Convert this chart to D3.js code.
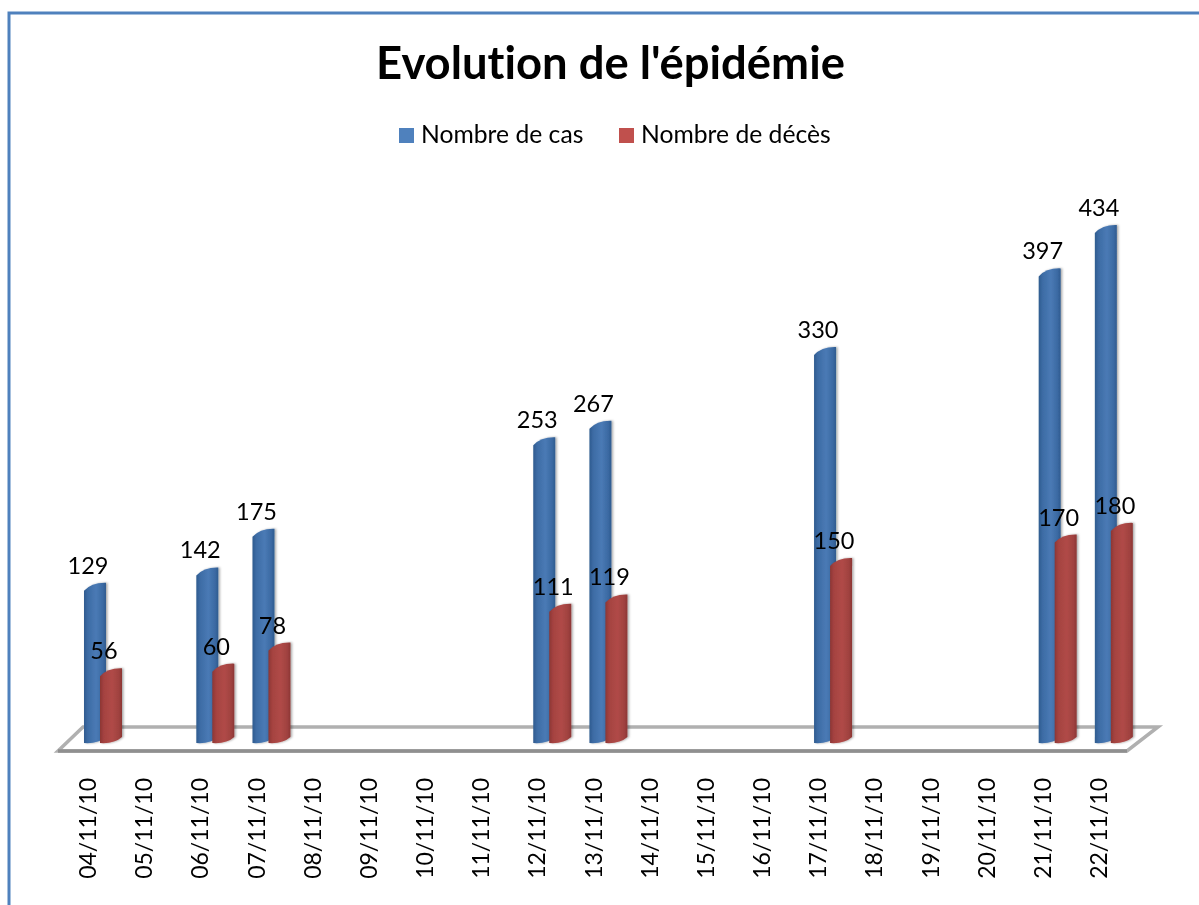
<!DOCTYPE html>
<html lang="fr">

<head>
  <meta charset="UTF-8" />
  <script src="https://d3js.org/d3.v7.min.js"></script>
  <title>Evolution de l'épidémie</title>
  <style>
    html, body { margin: 0; padding: 0; background: #fff; overflow: hidden; }
    svg { filter: blur(0.45px); }
    text { font-family: Lato, "Open Sans", sans-serif; fill: #000; font-variant-ligatures: none; }
  </style>
</head>

<body>
  <svg width="1199" height="905"></svg>

  <script>
    const dates = ["04/11/10", "05/11/10", "06/11/10", "07/11/10", "08/11/10", "09/11/10", "10/11/10",
      "11/11/10", "12/11/10", "13/11/10", "14/11/10", "15/11/10", "16/11/10", "17/11/10", "18/11/10",
      "19/11/10", "20/11/10", "21/11/10", "22/11/10"];
    const nombreCas = [129, null, 142, 175, null, null, null, null, 253, 267, null, null, null, 330, null, null, null, 397, 434];
    const nombreDeces = [56, null, 60, 78, null, null, null, null, 111, 119, null, null, null, 150, null, null, null, 170, 180];
    const seriesNames = ["Nombre de cas", "Nombre de décès"];
    const seriesColors = ["#4f81bd", "#c0504d"];

    const svg = d3.select("svg");

    // Chart frame, right and bottom edges fall outside the picture
    svg.append("path")
      .attr("d", "M9,905V13H1199")
      .attr("fill", "none")
      .attr("stroke", "#4f81bd")
      .attr("stroke-width", 3);

    const defs = svg.append("defs");
    const shadow = defs.append("filter").attr("id", "shadow")
      .attr("x", "-30%").attr("width", "170%");
    shadow.append("feDropShadow")
      .attr("dx", 1.5).attr("dy", 0).attr("stdDeviation", 1.2)
      .attr("flood-color", "#000").attr("flood-opacity", 0.35);

    const gradientStops = [
      [["0%", "#2f5b8f"], ["18%", "#3d6ca5"], ["55%", "#4a7ab5"], ["85%", "#3b6aa3"], ["100%", "#2f5b8f"]],
      [["0%", "#8c3634"], ["18%", "#a54341"], ["55%", "#b04a47"], ["85%", "#a04240"], ["100%", "#8c3634"]]
    ];
    gradientStops.forEach((stops, i) => {
      const g = defs.append("linearGradient").attr("id", "bar" + i);
      stops.forEach(s => g.append("stop").attr("offset", s[0]).attr("stop-color", s[1]));
    });

    // Scales
    const x = d3.scaleBand().domain(dates).range([58, 1125]);
    const inner = d3.scalePoint().domain(seriesNames).range([26, 42]);
    const y = d3.scaleLinear().domain([0, 434]).range([742, 233]);
    const barWidth = 22;

    // Floor of the 3D plot
    svg.append("path")
      .attr("d", "M83,727H1158L1127,751H58Z")
      .attr("fill", "#fff")
      .attr("stroke", "#b0b0b0")
      .attr("stroke-width", 3.5);
    svg.append("path")
      .attr("d", "M58,751H1127")
      .attr("stroke", "#8f8f8f")
      .attr("stroke-width", 3.5);

    // Cylinder seen from slightly above, the top leans up to the right
    function cylinder(x0, top) {
      const x1 = x0 + barWidth;
      const base = y(0);
      return `M${x0},${top}Q${x0 + barWidth * 0.35},${top - 8.5} ${x1},${top - 8}` +
        `L${x1},${base - 5}Q${x1 - barWidth * 0.35},${base + 2} ${x0},${base + 1}Z`;
    }

    const seriesValues = [nombreCas, nombreDeces];

    seriesValues.forEach((values, s) => {
      const rows = dates.map((d, i) => ({ date: d, value: values[i] })).filter(d => d.value !== null);
      const xPos = d => x(d.date) + inner(seriesNames[s]);
      svg.append("g").selectAll("path")
        .data(rows)
        .enter()
        .append("path")
        .attr("d", d => cylinder(xPos(d), y(d.value)))
        .attr("fill", `url(#bar${s})`)
        .attr("filter", "url(#shadow)");
    });

    seriesValues.forEach((values, s) => {
      const rows = dates.map((d, i) => ({ date: d, value: values[i] })).filter(d => d.value !== null);
      svg.append("g").selectAll("text")
        .data(rows)
        .enter()
        .append("text")
        .attr("x", d => x(d.date) + inner(seriesNames[s]) + 4)
        .attr("y", d => y(d.value) - 17)
        .attr("text-anchor", "middle")
        .attr("font-size", 23.5)
        .text(d => d.value);
    });

    // X axis with vertical dates
    const axis = svg.append("g")
      .attr("transform", "translate(2,762)")
      .call(d3.axisBottom(x).tickSize(0));
    axis.select(".domain").remove();
    axis.selectAll("text")
      .attr("font-size", 23)
      .attr("text-anchor", "end")
      .attr("transform", "rotate(-90)")
      .attr("x", -16)
      .attr("y", 0)
      .attr("dy", "0.35em");

    // Title
    svg.append("text")
      .attr("x", 610.5)
      .attr("y", 79)
      .attr("text-anchor", "middle")
      .attr("font-size", 45.4)
      .attr("font-weight", 700)
      .text("Evolution de l'épidémie");

    // Legend
    const legendX = d3.scaleOrdinal().domain(seriesNames).range([399, 619]);
    const legend = svg.append("g").selectAll("g")
      .data(seriesNames)
      .enter()
      .append("g")
      .attr("transform", d => `translate(${legendX(d)},128)`);
    legend.append("rect")
      .attr("width", 15)
      .attr("height", 15)
      .attr("fill", (d, i) => seriesColors[i]);
    legend.append("text")
      .attr("x", 22)
      .attr("y", 15)
      .attr("font-size", 24.7)
      .text(d => d);
  </script>
</body>

</html>
